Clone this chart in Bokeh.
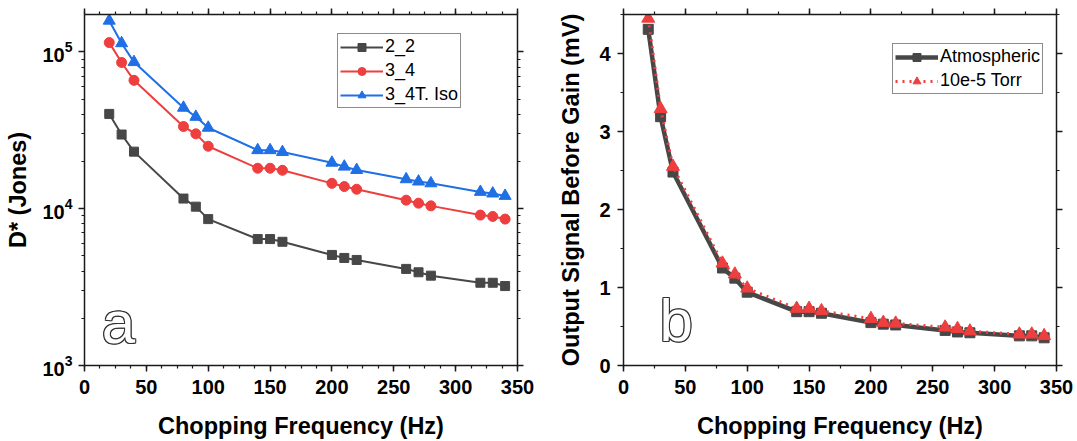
from bokeh.plotting import figure
from bokeh.models import (FixedTicker, LinearAxis, LogAxis, Range1d, Legend,
                          LegendItem, Label, CustomJSTickFormatter)
from bokeh.layouts import row
from bokeh.embed import file_html
from bokeh.resources import INLINE

# ---------------- data ----------------
freq = [20, 30, 40, 80, 90, 100, 140, 150, 160, 200, 210, 220, 260, 270, 280, 320, 330, 340]

d_2_2 = [40200, 29700, 23100, 11600, 10300, 8580, 6400, 6400, 6150,
         5070, 4850, 4710, 4130, 3930, 3740, 3370, 3370, 3210]
d_3_4 = [114500, 85500, 65800, 33400, 30000, 25000, 18100, 18100, 17560,
         14500, 13830, 13300, 11330, 10840, 10420, 9100, 8920, 8580]
d_3_4t_iso = [158000, 113500, 86000, 44000, 38500, 32800, 23600, 23600, 22950,
              19630, 18530, 17640, 15400, 14890, 14510, 12790, 12490, 12060]

sig_atmospheric = [4.31, 3.19, 2.48, 1.25, 1.12, 0.94, 0.69, 0.69, 0.67,
                   0.55, 0.53, 0.52, 0.45, 0.43, 0.42, 0.38, 0.38, 0.355]
sig_vacuum = [4.45, 3.29, 2.55, 1.31, 1.17, 0.99, 0.73, 0.73, 0.70,
              0.60, 0.55, 0.54, 0.49, 0.47, 0.44, 0.40, 0.40, 0.38]

series_names_a = ["2_2", "3_4", "3_4T. Iso"]
series_names_b = ["Atmospheric", "10e-5 Torr"]
x_title = "Chopping Frequency (Hz)"
y_title_a = "D* (Jones)"
y_title_b = "Output Signal Before Gain (mV)"

# ---------------- styles ----------------
FONT = "Liberation Sans"
AX = "#1a1a1a"
GRAY = "#474747"
RED = "#EE3E3E"
BLUE = "#1F6FE5"

x_major = list(range(0, 351, 50))
x_minor_a = [i * 12.5 for i in range(0, 29)]
x_minor_b = list(range(0, 351, 25))
y_major_a = [1e3, 1e4, 1e5]
y_minor_a = [m * 10 ** e for e in (3, 4, 5) for m in range(2, 10)]
y_major_b = [0, 1, 2, 3, 4]
y_minor_b = [i * 0.5 for i in range(0, 10)]


def style_axis(ax, labels=True, standoff=6, title_standoff=8):
    ax.axis_line_color = AX
    ax.axis_line_width = 1.5
    ax.major_tick_line_color = AX
    ax.major_tick_line_width = 1.5
    ax.minor_tick_line_color = AX
    ax.minor_tick_line_width = 1.2
    ax.major_tick_in = 0
    ax.major_tick_out = 6
    ax.minor_tick_in = 0
    ax.minor_tick_out = 3
    ax.major_label_text_font = FONT
    ax.major_label_text_font_style = "bold"
    ax.major_label_text_font_size = "20px"
    ax.major_label_text_color = "black"
    ax.major_label_standoff = standoff
    ax.axis_label_text_font = FONT
    ax.axis_label_text_font_style = "bold"
    ax.axis_label_text_font_size = "23.5px"
    ax.axis_label_text_color = "black"
    ax.axis_label_standoff = title_standoff
    if not labels:
        ax.formatter = CustomJSTickFormatter(code="return ''")
        ax.major_label_text_font_size = "1px"
        ax.major_label_standoff = 0


def outlined_letter(p, x, y, text, lift=18):
    offs = [(-1, -1), (-1, 1), (1, -1), (1, 1), (-1, 0), (1, 0), (0, -1), (0, 1)]
    for dx, dy in offs:
        p.add_layout(Label(x=x, y=y, x_offset=dx, y_offset=dy + lift, text=text,
                           text_font=FONT, text_font_size="60px",
                           text_color="#333333", text_baseline="alphabetic"))
    p.add_layout(Label(x=x, y=y, y_offset=lift, text=text, text_font=FONT,
                       text_font_size="60px", text_color="white",
                       text_baseline="alphabetic"))


def make_legend(items, loc):
    lg = Legend(items=items, location=loc)
    lg.border_line_color = AX
    lg.border_line_width = 1.5
    lg.background_fill_color = "white"
    lg.background_fill_alpha = 1
    lg.padding = 2
    lg.spacing = 3
    lg.margin = 0
    lg.glyph_width = 43
    lg.glyph_height = 20
    lg.label_height = 20
    lg.label_standoff = 2
    lg.label_text_font = FONT
    lg.label_text_font_size = "18px"
    lg.label_text_color = "black"
    return lg


# ---------------- panel a ----------------
pa = figure(width=540, height=441, output_backend="svg", toolbar_location=None,
            y_axis_type="log", x_range=Range1d(0, 350), y_range=Range1d(1000, 1.73e5),
            min_border_left=84, min_border_right=23, min_border_top=14,
            min_border_bottom=74)
pa.grid.visible = False
pa.outline_line_color = None

xt_a = FixedTicker(ticks=x_major, minor_ticks=x_minor_a)
yt_a = FixedTicker(ticks=y_major_a, minor_ticks=y_minor_a)
pa.xaxis.ticker = xt_a
pa.yaxis.ticker = yt_a
pa.xaxis.axis_label = x_title
pa.yaxis.axis_label = y_title_a
style_axis(pa.xaxis[0], standoff=8, title_standoff=16)
style_axis(pa.yaxis[0], standoff=6, title_standoff=8)
top_a = LinearAxis(ticker=xt_a)
style_axis(top_a, labels=False)
pa.add_layout(top_a, "above")
right_a = LogAxis(ticker=yt_a)
style_axis(right_a, labels=False)
pa.add_layout(right_a, "right")

l1 = pa.line(freq, d_2_2, line_color=GRAY, line_width=2)
m1 = pa.scatter(freq, d_2_2, marker="square", size=9, fill_color=GRAY, line_color=GRAY)
l2 = pa.line(freq, d_3_4, line_color=RED, line_width=2)
m2 = pa.scatter(freq, d_3_4, marker="circle", size=10, fill_color=RED, line_color=RED)
l3 = pa.line(freq, d_3_4t_iso, line_color=BLUE, line_width=2)
m3 = pa.scatter(freq, d_3_4t_iso, marker="triangle", size=12, fill_color=BLUE, line_color=BLUE)

pa.add_layout(make_legend([
    LegendItem(label=series_names_a[0], renderers=[l1, m1]),
    LegendItem(label=series_names_a[1], renderers=[l2, m2]),
    LegendItem(label=series_names_a[2], renderers=[l3, m3]),
], (253, 257)))

outlined_letter(pa, 14, 1450, "a")

# ---------------- panel b ----------------
pb = figure(width=537, height=441, output_backend="svg", toolbar_location=None,
            x_range=Range1d(0, 350), y_range=Range1d(0, 4.5),
            min_border_left=83, min_border_right=21, min_border_top=14,
            min_border_bottom=74)
pb.grid.visible = False
pb.outline_line_color = None

xt_b = FixedTicker(ticks=x_major, minor_ticks=x_minor_b)
yt_b = FixedTicker(ticks=y_major_b, minor_ticks=y_minor_b)
pb.xaxis.ticker = xt_b
pb.yaxis.ticker = yt_b
pb.xaxis.axis_label = x_title
pb.yaxis.axis_label = y_title_b
style_axis(pb.xaxis[0], standoff=8, title_standoff=16)
style_axis(pb.yaxis[0], standoff=7, title_standoff=12)
top_b = LinearAxis(ticker=xt_b)
style_axis(top_b, labels=False)
pb.add_layout(top_b, "above")
right_b = LinearAxis(ticker=yt_b)
style_axis(right_b, labels=False)
pb.add_layout(right_b, "right")

lb1 = pb.line(freq, sig_atmospheric, line_color=GRAY, line_width=4.5)
mb1 = pb.scatter(freq, sig_atmospheric, marker="square", size=10, fill_color=GRAY, line_color=GRAY)
lb2 = pb.line(freq, sig_vacuum, line_color=RED, line_width=3, line_dash="2 5")
mb2 = pb.scatter(freq, sig_vacuum, marker="triangle", size=13, fill_color=RED, line_color=RED)

pb.add_layout(make_legend([
    LegendItem(label=series_names_b[0], renderers=[lb1, mb1]),
    LegendItem(label=series_names_b[1], renderers=[lb2, mb2]),
], (269, 271)))

outlined_letter(pb, 29, 0.34, "b")

layout = row(pa, pb)
open("out.html", "w").write(file_html(layout, INLINE))
